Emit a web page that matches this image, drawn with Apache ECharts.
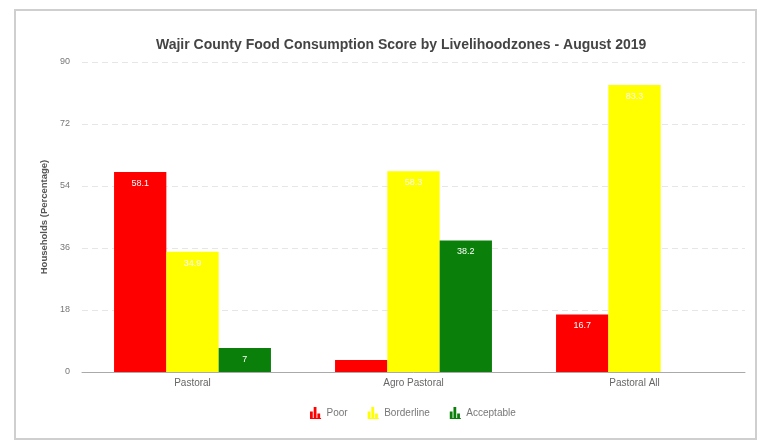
<!DOCTYPE html>
<html>
<head>
<meta charset="utf-8">
<script src="https://cdn.jsdelivr.net/npm/echarts@6/dist/echarts.min.js"></script>
<style>
  html, body { margin: 0; padding: 0; background: #ffffff; }
  #chart { width: 762px; height: 445px; }
</style>
</head>
<body>
<div id="chart"></div>
<script>
// Livelihood zones and Food Consumption Score shares (% of households)
var zones = ['Pastoral', 'Agro Pastoral', 'Pastoral All'];
var poor = [58.1, 3.5, 16.7];
var borderline = [34.9, 58.3, 83.3];
var acceptable = [7, 38.2, 0];
var yTicks = [0, 18, 36, 54, 72, 90];

var barIcon = 'path://M0,12 L0,5 L3,5 L3,12 Z M4,12 L4,0 L7,0 L7,12 Z M8,12 L8,7 L11,7 L11,12 Z M0,12 L12,12 L12,13 L0,13 Z';

// bars too short to hold their value get no label
function labelFor(v) { return v < 5 ? '' : String(v); }

var barLabel = {
  show: true, position: 'insideTop', distance: 7, color: '#ffffff',
  fontSize: 9, fontFamily: 'Liberation Sans',
  formatter: function (p) { return labelFor(p.value); }
};

var chart = echarts.init(document.getElementById('chart'), null, { renderer: 'canvas' });
chart.setOption({
  backgroundColor: '#ffffff',
  animation: false,
  graphic: [{
    type: 'rect',
    shape: { x: 15, y: 10, width: 741, height: 429 },
    style: { fill: 'none', stroke: '#cfcfcf', lineWidth: 2 },
    z: -1
  }],
  title: {
    text: 'Wajir County Food Consumption Score by Livelihoodzones - August 2019',
    left: 151,
    top: 33,
    textStyle: { fontFamily: 'Liberation Sans', fontSize: 14, fontWeight: 'bold', color: '#444' }
  },
  legend: {
    top: 402,
    left: 305,
    itemWidth: 12,
    itemHeight: 12,
    itemGap: 20,
    icon: barIcon,
    textStyle: { fontFamily: 'Liberation Sans', fontSize: 10, color: '#777' },
    data: ['Poor', 'Borderline', 'Acceptable']
  },
  grid: { left: 82, right: 17, top: 62, bottom: 73 },
  xAxis: {
    type: 'category',
    data: zones,
    axisLine: { lineStyle: { color: '#aaaaaa', width: 1 } },
    axisTick: { show: false },
    axisLabel: { fontFamily: 'Liberation Sans', fontSize: 10, color: '#666', margin: 6 }
  },
  yAxis: {
    type: 'value',
    min: 0,
    max: 90,
    interval: 18,
    name: 'Households (Percentage)',
    nameLocation: 'middle',
    nameGap: 30,
    nameTextStyle: { fontFamily: 'Liberation Sans', fontSize: 9.5, fontWeight: 'bold', color: '#555' },
    axisLine: { show: false },
    axisTick: { show: false },
    axisLabel: {
      fontFamily: 'Liberation Sans', fontSize: 9, color: '#777', margin: 12,
      formatter: function (v) { return yTicks.indexOf(v) >= 0 ? String(v) : ''; }
    },
    splitLine: { lineStyle: { color: '#e6e6e6', type: [6, 4], width: 1 } }
  },
  series: [
    {
      name: 'Poor', type: 'bar', data: poor, barGap: '0%', barCategoryGap: '29%',
      itemStyle: { color: '#ff0000' }, label: barLabel
    },
    {
      name: 'Borderline', type: 'bar', data: borderline,
      itemStyle: { color: '#ffff00' }, label: barLabel
    },
    {
      name: 'Acceptable', type: 'bar', data: acceptable,
      itemStyle: { color: '#0a800a' }, label: barLabel
    }
  ]
});
</script>
</body>
</html>
